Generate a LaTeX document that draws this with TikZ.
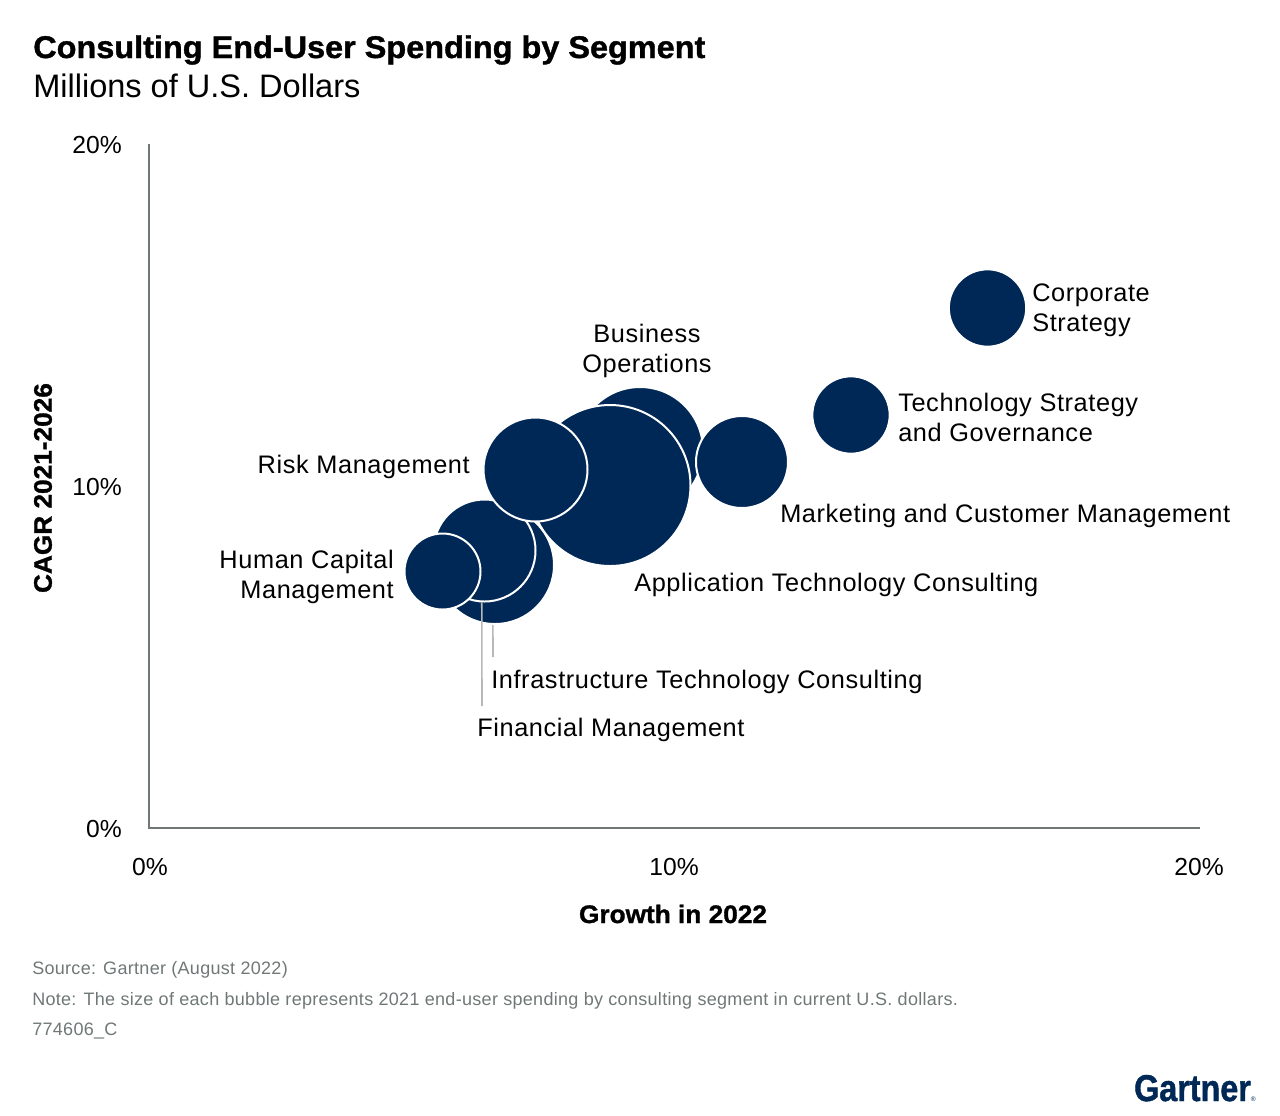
\documentclass[tikz,border=0pt]{standalone}
\usepackage{fontspec}
\setmainfont[LetterSpace=2.4]{Liberation Sans}
\newfontfamily\plainfont{Liberation Sans}
\newfontfamily\notefont[LetterSpace=1.7]{Liberation Sans}
\newfontfamily\heavyfont[FakeBold=1.2, FakeStretch=1.035]{Liberation Sans Bold}
\newfontfamily\logofont[FakeBold=1.2, FakeStretch=0.865]{Liberation Sans Bold}
\definecolor{navy}{HTML}{002856}
\definecolor{axisgray}{HTML}{6F7777}
\definecolor{leadgray}{HTML}{B8B8B8}
\newcommand{\labelfont}{\fontsize{19}{22.5}\selectfont}
\begin{document}
\begin{tikzpicture}[x=0.75pt, y=-0.75pt,
    bubble/.style={circle, fill=navy, draw=white, line width=1.5pt, inner sep=0pt},
    seglabel/.style={inner sep=0pt, text=black, font=\labelfont},
    ticklabel/.style={inner sep=0pt, font=\plainfont\fontsize{18.5}{22}\selectfont},
    axistitle/.style={inner sep=0pt, font=\heavyfont\fontsize{19}{22}\selectfont},
    footnote/.style={anchor=base west, inner sep=0pt, text=axisgray, font=\notefont\fontsize{13.5}{16}\selectfont},
    leader/.style={draw=leadgray, line width=1.2pt}]
    \useasboundingbox (0,0) rectangle (1280,1115);

    % Titel
    \node[anchor=base west, inner sep=0pt, font=\heavyfont\fontsize{23.5}{28}\selectfont] (title) at (33,58) {Consulting End-User Spending by Segment};
    \node[anchor=base west, inner sep=0pt, font=\plainfont\fontsize{24.4}{28}\selectfont] (subtitle) at (33,97) {Millions of U.S. Dollars};

    % Achsen
    \coordinate (ytop) at (149,144);
    \coordinate (xright) at (1200,828);
    \draw[axisgray, line width=1.2pt] (ytop) |- (xright);

    % Achsenbeschriftung
    \node[ticklabel, anchor=base east] (y20) at (122,153) {20\%};
    \node[ticklabel, anchor=base east] (y10) at (122,495) {10\%};
    \node[ticklabel, anchor=base east] (y0) at (122,837) {0\%};
    \node[ticklabel, anchor=base] (x0) at (150,875) {0\%};
    \node[ticklabel, anchor=base] (x10) at (674,875) {10\%};
    \node[ticklabel, anchor=base] (x20) at (1199,875) {20\%};
    \node[axistitle, anchor=base] (xtitle) at (673,923) {Growth in 2022};
    \node[axistitle, rotate=90] (ytitle) at (43,488) {CAGR 2021-2026};

    % Blasen
    \node[bubble, minimum size=94.5pt] (business) at (640,450) {};
    \node[bubble, minimum size=69pt] (marketing) at (742,462) {};
    \node[bubble, minimum size=88.5pt] (infra) at (495,565) {};
    \node[bubble, minimum size=120.75pt] (application) at (610,485.5) {};
    \node[bubble, minimum size=76.5pt] (financial) at (484.5,550.5) {};
    \node[bubble, minimum size=78pt] (risk) at (535.5,469.5) {};
    \node[bubble, minimum size=57pt] (human) at (442.5,571.5) {};
    \node[bubble, minimum size=58pt] (corporate) at (987.5,308) {};
    \node[bubble, minimum size=58pt] (techstrategy) at (851,415) {};

    % Hinweislinien
    \coordinate (infraend) at (493,657);
    \coordinate (financialend) at (482,706);
    \draw[leader] (infra.268) -- (infraend);
    \draw[leader] (financial.267) -- (financialend);

    % Segmente
    \node[seglabel, anchor=west, align=left] (corporatetext) at (1032,310) {Corporate\\Strategy};
    \node[seglabel, align=center] (businesstext) at (647,351) {Business\\Operations};
    \node[seglabel, anchor=west, align=left] (techtext) at (898,417) {Technology Strategy\\and Governance};
    \node[seglabel, anchor=base west] (marketingtext) at (780,522) {Marketing and Customer Management};
    \node[seglabel, anchor=base west] (applicationtext) at (634,591) {Application Technology Consulting};
    \node[seglabel, anchor=base east] (risktext) at (470,473) {Risk Management};
    \node[seglabel, anchor=east, align=right] (humantext) at (394,577) {Human Capital\\Management};
    \node[seglabel, anchor=base west] (infratext) at (491,688) {Infrastructure Technology Consulting};
    \node[seglabel, anchor=base west] (financialtext) at (477,736) {Financial Management};

    % Fussnoten
    \node[footnote] (source) at (32,974) {Source: Gartner (August 2022)};
    \node[footnote] (note) at (32,1005) {Note: The size of each bubble represents 2021 end-user spending by consulting segment in current U.S. dollars.};
    \node[footnote] (code) at (32,1035) {774606\_C};

    % Logo
    \node[anchor=base east, inner sep=0pt, text=navy, font=\logofont\fontsize{28}{32}\selectfont] (logo) at (1256,1101) {Gartner{\plainfont\fontsize{5}{6}\selectfont ®}};
\end{tikzpicture}
\end{document}
